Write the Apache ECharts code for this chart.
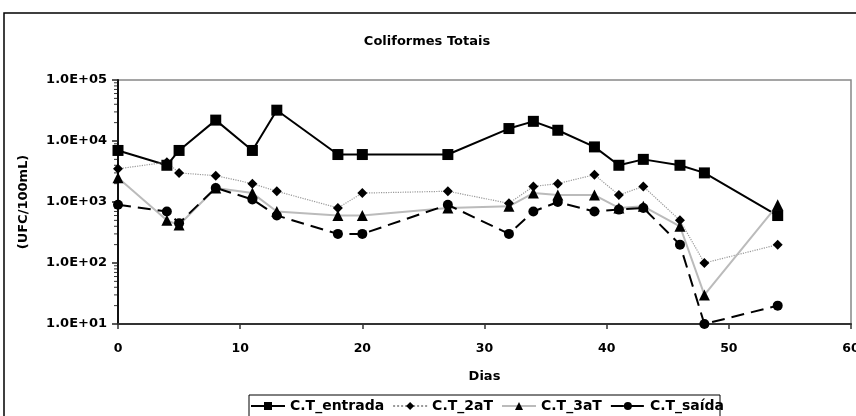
<!DOCTYPE html>
<html>
<head>
<meta charset="utf-8">
<script src="https://cdn.jsdelivr.net/npm/echarts@6/dist/echarts.min.js"></script>
<style>
  html, body { margin: 0; padding: 0; background: #fff; }
  #chart { width: 856px; height: 416px; }
</style>
</head>
<body>
<div id="chart"></div>
<script>
// Sampling days (Dias)
const days = [0, 4, 5, 8, 11, 13, 18, 20, 27, 32, 34, 36, 39, 41, 43, 46, 48, 54];

// Total coliforms (UFC/100mL) per sampling point
const entrada = [7000, 4000, 7000, 22000, 7000, 32000, 6000, 6000, 6000, 16000, 21000, 15000, 8000, 4000, 5000, 4000, 3000, 600];
const ct2aT   = [3500, 4500, 3000, 2700, 2000, 1500, 800, 1400, 1500, 950, 1800, 2000, 2800, 1300, 1800, 500, 100, 200];
const ct3aT   = [2500, 500, 420, 1700, 1400, 700, 600, 600, 800, 850, 1400, 1300, 1300, 800, 850, 400, 30, 900];
const saida   = [900, 700, 450, 1700, 1100, 600, 300, 300, 900, 300, 700, 1000, 700, 750, 800, 200, 10, 20];

const seriesNames = ['C.T_entrada', 'C.T_2aT', 'C.T_3aT', 'C.T_saída'];
const xTickValues = [0, 10, 20, 30, 40, 50, 60];
const yTickValues = [10, 100, 1000, 10000, 100000];

const FONT = 'DejaVu Sans';
const pairs = vals => days.map((d, i) => [d, vals[i]]);

function sciLabel(v) {
  const e = Math.floor(Math.log10(v) + 1e-9);
  const m = (v / Math.pow(10, e)).toFixed(1);
  return m + 'E' + (e < 0 ? '-' : '+') + String(Math.abs(e)).padStart(2, '0');
}

const chart = echarts.init(document.getElementById('chart'), null, { renderer: 'canvas' });

const option = {
  animation: false,
  backgroundColor: '#fff',
  title: {
    text: 'Coliformes Totais',
    left: 422, top: 30, textAlign: 'center',
    textStyle: { fontFamily: FONT, fontSize: 13, fontWeight: 'bold', color: '#000' }
  },
  grid: {
    left: 118, right: 5, top: 80, bottom: 92,
    outerBoundsMode: 'none',
    show: true, borderColor: '#888', borderWidth: 1.5, backgroundColor: 'transparent'
  },
  legend: {
    data: seriesNames,
    left: 250, top: 399,
    itemWidth: 34, itemHeight: 10, itemGap: 8, padding: 0,
    textStyle: { fontFamily: FONT, fontSize: 14, fontWeight: 'bold', color: '#000' }
  },
  xAxis: {
    type: 'value', min: xTickValues[0], max: xTickValues[xTickValues.length - 1], interval: 10,
    name: 'Dias', nameLocation: 'middle', nameGap: 46,
    nameTextStyle: { fontFamily: FONT, fontSize: 13, fontWeight: 'bold', color: '#000' },
    axisLine: { lineStyle: { color: '#333', width: 2 } },
    axisTick: { show: true, inside: false, length: 5, lineStyle: { color: '#333', width: 1.5 } },
    axisLabel: { margin: 18, fontFamily: FONT, fontSize: 12.5, fontWeight: 'bold', color: '#000' },
    splitLine: { show: false }
  },
  yAxis: {
    type: 'log', logBase: 10, min: yTickValues[0], max: yTickValues[yTickValues.length - 1],
    name: '(UFC/100mL)', nameLocation: 'middle', nameGap: 88,
    nameTextStyle: { fontFamily: FONT, fontSize: 13, fontWeight: 'bold', color: '#000' },
    axisLine: { show: true, lineStyle: { color: '#111', width: 2 } },
    axisTick: { show: true, inside: false, length: 6, lineStyle: { color: '#222', width: 1.5 } },
    axisLabel: { margin: 11, fontFamily: FONT, fontSize: 13, fontWeight: 'bold', color: '#000', formatter: sciLabel },
    splitLine: { show: false }
  },
  series: [
    {
      name: seriesNames[0], type: 'line', data: pairs(entrada),
      symbol: 'rect', symbolSize: 11, showAllSymbol: true,
      lineStyle: { color: '#000', width: 2 }, itemStyle: { color: '#000' }
    },
    {
      name: seriesNames[1], type: 'line', data: pairs(ct2aT),
      symbol: 'diamond', symbolSize: 10, showAllSymbol: true,
      lineStyle: { color: '#999', width: 1.2, type: 'dotted' }, itemStyle: { color: '#000' }
    },
    {
      name: seriesNames[2], type: 'line', data: pairs(ct3aT),
      symbol: 'triangle', symbolSize: 11, showAllSymbol: true,
      lineStyle: { color: '#bbb', width: 2 }, itemStyle: { color: '#000' }
    },
    {
      name: seriesNames[3], type: 'line', data: pairs(saida),
      symbol: 'circle', symbolSize: 10, showAllSymbol: true,
      lineStyle: { color: '#000', width: 2, type: [13, 7] }, itemStyle: { color: '#000' }
    }
  ]
};

chart.setOption(option);

// Outer chart frame, legend box and logarithmic minor ticks on the value axis
const axisX = chart.convertToPixel({ xAxisIndex: 0 }, 0);
const graphics = [
  { type: 'rect', silent: true, z: -1,
    shape: { x: 4, y: 13, width: 900, height: 500 },
    style: { fill: 'none', stroke: '#000', lineWidth: 1.5 } },
  { type: 'rect', silent: true, z: -1,
    shape: { x: 249, y: 395, width: 471, height: 40 },
    style: { fill: 'none', stroke: '#000', lineWidth: 1 } }
];
for (let k = 0; k < yTickValues.length - 1; k++) {
  const base = yTickValues[k];
  for (let m = 2; m <= 9; m++) {
    const y = chart.convertToPixel({ yAxisIndex: 0 }, base * m);
    graphics.push({ type: 'line', silent: true,
      shape: { x1: axisX - 4, y1: y, x2: axisX, y2: y },
      style: { stroke: '#333', lineWidth: 1 } });
  }
}
chart.setOption({ graphic: graphics });
</script>
</body>
</html>
